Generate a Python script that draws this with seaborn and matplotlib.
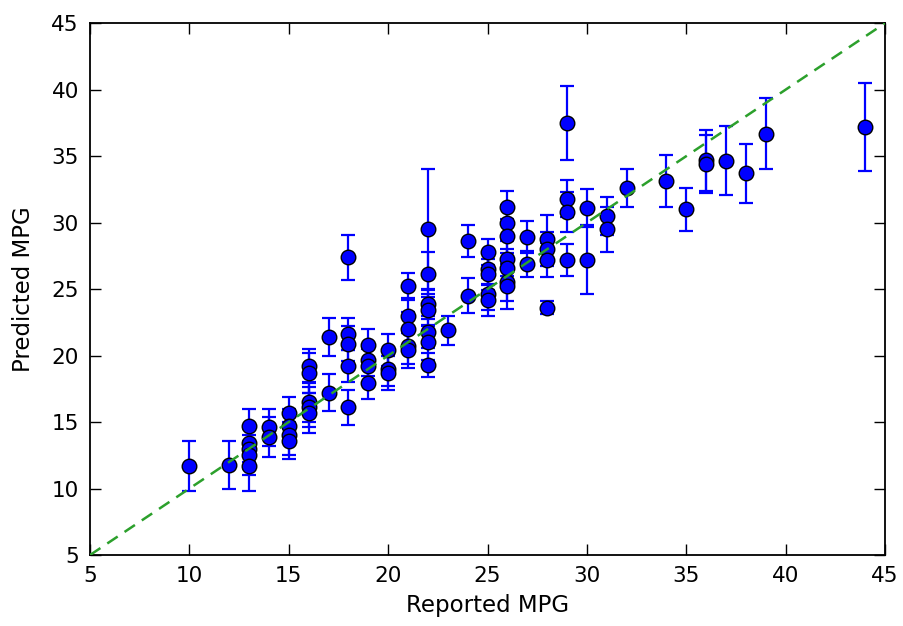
import matplotlib
matplotlib.use("Agg")
import matplotlib.pyplot as plt
import pandas as pd
import seaborn as sns

# reported mpg, predicted mpg and predictive std
reported = [10, 12,
            13, 13, 13, 13, 13,
            14, 14,
            15, 15, 15, 15,
            16, 16, 16, 16, 16,
            17, 17,
            18, 18, 18, 18, 18,
            19, 19, 19, 19,
            20, 20, 20,
            21, 21, 21, 21, 21,
            22, 22, 22, 22, 22, 22, 22,
            23,
            24, 24,
            25, 25, 25, 25, 25,
            26, 26, 26, 26, 26, 26, 26,
            27, 27,
            28, 28, 28, 28,
            29, 29, 29, 29,
            30, 30,
            31, 31,
            32, 34, 35,
            36, 36,
            37, 38, 39, 44]
predicted = [11.7, 11.8,
             14.7, 13.4, 13.0, 12.5, 11.7,
             14.6, 13.9,
             15.7, 14.7, 14.0, 13.6,
             19.2, 18.7, 16.5, 16.15, 15.65,
             21.4, 17.2,
             27.4, 21.6, 20.9, 19.2, 16.1,
             20.8, 19.7, 19.2, 17.9,
             20.4, 19.0, 18.7,
             25.2, 23.0, 22.0, 20.7, 20.4,
             29.5, 26.1, 23.85, 23.4, 21.8, 21.0, 19.3,
             21.9,
             28.6, 24.5,
             27.8, 26.5, 26.1, 24.6, 24.2,
             31.2, 30.0, 29.0, 27.3, 26.6, 25.5, 25.2,
             28.9, 26.9,
             28.8, 28.0, 27.2, 23.6,
             37.5, 31.8, 30.8, 27.2,
             31.1, 27.2,
             30.5, 29.5,
             32.6, 33.1, 31.0,
             34.7, 34.4,
             34.65, 33.7, 36.7, 37.2]
std = [1.9, 1.8,
       1.3, 1.4, 1.5, 1.5, 1.9,
       1.4, 1.5,
       1.2, 1.3, 1.5, 1.4,
       1.3, 1.5, 1.5, 1.5, 1.5,
       1.4, 1.4,
       1.7, 1.2, 1.3, 1.2, 1.3,
       1.2, 1.2, 1.3, 1.2,
       1.2, 1.3, 1.3,
       1.0, 1.3, 1.3, 1.3, 1.3,
       4.5, 1.7, 1.1, 1.2, 1.2, 1.3, 0.9,
       1.1,
       1.2, 1.3,
       1.0, 1.2, 1.2, 1.2, 1.2,
       1.2, 1.3, 1.3, 1.3, 1.4, 1.4, 1.7,
       1.2, 1.0,
       1.8, 1.3, 1.3, 0.5,
       2.8, 1.4, 1.5, 1.2,
       1.4, 2.6,
       1.4, 1.7,
       1.4, 1.95, 1.6,
       2.3, 2.2,
       2.6, 2.2, 2.65, 3.3]

df = pd.DataFrame({"Reported MPG": reported,
                   "Predicted MPG": predicted,
                   "std": std})
diag = pd.DataFrame({"x": [5, 45], "y": [5, 45]})

sns.set_style("ticks")
plt.rcParams["font.family"] = ["DejaVu Sans"]
plt.rcParams["xtick.direction"] = "in"
plt.rcParams["ytick.direction"] = "in"
plt.rcParams["text.color"] = "black"
plt.rcParams["axes.labelcolor"] = "black"
plt.rcParams["xtick.color"] = "black"
plt.rcParams["ytick.color"] = "black"

fig = plt.figure(figsize=(9.04, 6.26), dpi=100)
ax = fig.add_axes([0.0996, 0.1134, 0.8794, 0.8496])

ax.errorbar(df["Reported MPG"], df["Predicted MPG"], yerr=df["std"],
            fmt="none", ecolor="blue", elinewidth=1.6, capsize=5,
            capthick=1.6, zorder=2)
sns.scatterplot(data=df, x="Reported MPG", y="Predicted MPG", ax=ax,
                color="blue", edgecolor="black", linewidth=1, s=110,
                zorder=3)
sns.lineplot(data=diag, x="x", y="y", ax=ax, color="#2ca02c",
             linestyle="--", linewidth=1.8, zorder=4)
ax.lines[-1].set_dashes((5, 3.3))

ax.set_xlim(5, 45)
ax.set_ylim(5, 45)
ax.set_xticks(range(5, 50, 5))
ax.set_yticks(range(5, 50, 5))
ax.tick_params(top=True, right=True, labelsize=15.5, length=8, width=1,
               pad=8)
ax.set_xlabel("Reported MPG", fontsize=16.5, labelpad=6)
ax.set_ylabel("Predicted MPG", fontsize=16.5, labelpad=12)
for s in ax.spines.values():
    s.set_linewidth(1.3)
    s.set_color("black")

fig.savefig("out.png", dpi=100)
